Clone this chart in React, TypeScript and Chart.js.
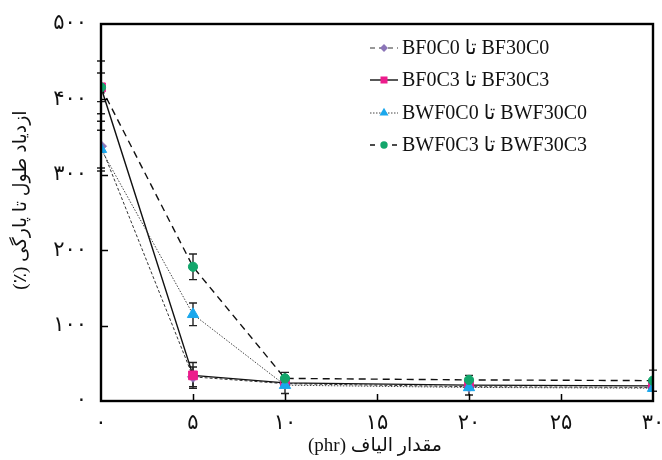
import React, { useEffect, useRef } from 'react';
import { Chart, registerables } from 'chart.js';

Chart.register(...registerables);

// ---- data ----
const xValues = [0, 5, 10, 20, 30];
const seriesLabels = [
  'BF0C0 تا BF30C0',
  'BF0C3 تا BF30C3',
  'BWF0C0 تا BWF30C0',
  'BWF0C3 تا BWF30C3',
];
const bf0c0 = [338, 32, 23, 19, 18];
const bf0c3 = [416, 34, 24, 21, 20];
const bwf0c0 = [334, 115, 21, 18, 17];
const bwf0c3 = [416, 178, 30, 28, 27];
const bf0c0Err = [33, 13, 0, 0, 0];
const bf0c3Err = [35, 17, 14, 13, 0];
const bwf0c0Err = [25, 15, 0, 0, 0];
const bwf0c3Err = [19, 17, 0, 0, 14];
const xTickLabels = ['۰', '۵', '۱۰', '۱۵', '۲۰', '۲۵', '۳۰'];
const yTickLabels = ['۰', '۱۰۰', '۲۰۰', '۳۰۰', '۴۰۰', '۵۰۰'];
const xTitle = 'مقدار الیاف (phr)';
const yTitle = 'ازدیاد طول تا پارگی (٪)';

const seriesValues = [bf0c0, bf0c3, bwf0c0, bwf0c3];
const seriesErrors = [bf0c0Err, bf0c3Err, bwf0c0Err, bwf0c3Err];
const seriesColors = ['#8B75B8', '#EC1C8C', '#1AA7EC', '#12A66B'];
const seriesShapes = ['rectRot', 'rect', 'triangle', 'circle'];
const seriesRadius = [5.5, 6.2, 6.5, 4.6];
const seriesDash = [[3, 2], [], [1.5, 1.5], [7, 5]];
const seriesLineColor = ['#333', '#111', '#444', '#111'];
const seriesLineWidth = [1, 1.4, 1, 1.4];
const seriesOrder = [3, 2, 1, 0];

const FONT_LATIN = "'Liberation Serif', 'DejaVu Sans', serif";
const FONT_FA = "'DejaVu Sans', 'Liberation Serif', sans-serif";

function marker(ctx: CanvasRenderingContext2D, shape: string, r: number, x: number, y: number) {
  ctx.beginPath();
  if (shape === 'circle') {
    ctx.arc(x, y, r, 0, Math.PI * 2);
  } else if (shape === 'rect') {
    const s = r * Math.SQRT1_2;
    ctx.rect(x - s, y - s, 2 * s, 2 * s);
  } else if (shape === 'rectRot') {
    const s = r * 0.9;
    ctx.moveTo(x - s, y);
    ctx.lineTo(x, y - s);
    ctx.lineTo(x + s, y);
    ctx.lineTo(x, y + s);
    ctx.closePath();
  } else {
    const h = r * 1.5;
    const w = r * 0.866;
    ctx.moveTo(x, y - r);
    ctx.lineTo(x + w, y + h - r);
    ctx.lineTo(x - w, y + h - r);
    ctx.closePath();
  }
  ctx.fill();
}

const extrasPlugin = {
  id: 'extras',
  beforeDatasetsDraw(chart: any) {
    const ctx = chart.ctx;
    const xs = chart.scales.x;
    const ys = chart.scales.y;
    ctx.save();
    ctx.strokeStyle = '#222';
    ctx.lineWidth = 1.4;
    seriesValues.forEach((vals, si) => {
      vals.forEach((v, i) => {
        const e = seriesErrors[si][i];
        if (!e) return;
        const px = xs.getPixelForValue(xValues[i]);
        const top = ys.getPixelForValue(v + e);
        const bot = ys.getPixelForValue(v - e);
        ctx.beginPath();
        ctx.moveTo(px, top);
        ctx.lineTo(px, bot);
        ctx.moveTo(px - 4, top);
        ctx.lineTo(px + 4, top);
        ctx.moveTo(px - 4, bot);
        ctx.lineTo(px + 4, bot);
        ctx.stroke();
      });
    });
    ctx.restore();
  },
  afterDraw(chart: any) {
    const ctx = chart.ctx as CanvasRenderingContext2D;
    const a = chart.chartArea;
    const xs = chart.scales.x;
    const ys = chart.scales.y;
    ctx.save();
    // inward ticks
    ctx.strokeStyle = '#000';
    ctx.lineWidth = 1.5;
    ctx.beginPath();
    [100, 200, 300, 400].forEach((v) => {
      const py = Math.round(ys.getPixelForValue(v)) + 0.5;
      ctx.moveTo(a.left, py);
      ctx.lineTo(a.left + 7, py);
    });
    [5, 10, 15, 20, 25].forEach((v) => {
      const px = Math.round(xs.getPixelForValue(v)) + 0.5;
      ctx.moveTo(px, a.bottom);
      ctx.lineTo(px, a.bottom - 7);
    });
    ctx.stroke();
    // frame
    ctx.lineWidth = 2.4;
    ctx.strokeRect(a.left, a.top, a.right - a.left, a.bottom - a.top);

    // legend
    (ctx as any).direction = 'ltr';
    ctx.font = `20px ${FONT_LATIN}`;
    ctx.textBaseline = 'middle';
    ctx.textAlign = 'left';
    const rowY = [48, 80, 113, 145];
    seriesLabels.forEach((lab, i) => {
      const y = rowY[i];
      ctx.save();
      ctx.strokeStyle = seriesLineColor[i];
      ctx.lineWidth = seriesLineWidth[i];
      ctx.setLineDash(i === 3 ? [5, 6] : i === 0 ? [5, 4] : seriesDash[i]);
      ctx.beginPath();
      ctx.moveTo(370, y);
      ctx.lineTo(398, y);
      ctx.stroke();
      ctx.restore();
      ctx.fillStyle = seriesColors[i];
      marker(ctx, seriesShapes[i], seriesRadius[i] * 0.8, 384, y);
      ctx.fillStyle = '#111';
      ctx.fillText(lab, 402, y + 1);
    });

    // axis titles (RTL)
    (ctx as any).direction = 'rtl';
    ctx.fillStyle = '#111';
    ctx.font = `19px ${FONT_LATIN}`;
    ctx.textAlign = 'center';
    ctx.textBaseline = 'middle';
    ctx.fillText(xTitle, (a.left + a.right) / 2 - 2, 446);
    ctx.translate(21, 200);
    ctx.rotate(-Math.PI / 2);
    ctx.fillText(yTitle, 0, 0);
    ctx.restore();
  },
};

export default function App() {
  const ref = useRef<HTMLCanvasElement | null>(null);
  useEffect(() => {
    if (!ref.current) return;
    const datasets = seriesLabels.map((lab, i) => ({
      label: lab,
      data: xValues.map((x, j) => ({ x, y: seriesValues[i][j] })),
      borderColor: seriesLineColor[i],
      borderWidth: seriesLineWidth[i],
      borderDash: seriesDash[i],
      backgroundColor: seriesColors[i],
      pointBackgroundColor: seriesColors[i],
      pointBorderColor: seriesColors[i],
      pointBorderWidth: 1,
      pointStyle: seriesShapes[i],
      pointRadius: seriesRadius[i],
      fill: false,
      tension: 0,
      order: seriesOrder[i],
    }));
    const chart = new Chart(ref.current, {
      type: 'line',
      data: { datasets },
      plugins: [extrasPlugin],
      options: {
        animation: false,
        responsive: true,
        maintainAspectRatio: false,
        layout: { padding: { top: 24, right: 9, left: 0, bottom: 0 } },
        plugins: { legend: { display: false }, tooltip: { enabled: false } },
        scales: {
          x: {
            type: 'linear',
            min: 0,
            max: 30,
            grid: { display: false, drawTicks: false },
            border: { display: false },
            ticks: {
              stepSize: 5,
              autoSkip: false,
              maxRotation: 0,
              padding: 10,
              color: '#111',
              font: { family: FONT_FA, size: 21 },
              callback: (v: any) => xTickLabels[Math.round(Number(v) / 5)] ?? '',
            },
            afterFit: (s: any) => {
              s.height = 59;
              s.paddingLeft = 0;
              s.paddingRight = 0;
            },
          },
          y: {
            type: 'linear',
            min: 0,
            max: 500,
            grid: { display: false, drawTicks: false },
            border: { display: false },
            ticks: {
              stepSize: 100,
              padding: 14,
              color: '#111',
              font: { family: FONT_FA, size: 21 },
              callback: (v: any) => yTickLabels[Math.round(Number(v) / 100)] ?? '',
            },
            afterFit: (s: any) => {
              s.width = 101;
              s.paddingTop = 0;
              s.paddingBottom = 0;
            },
          },
        },
      },
    });
    return () => chart.destroy();
  }, []);
  return (
    <div style={{ position: 'absolute', left: 0, top: 0, width: 662, height: 460, background: '#fff' }}>
      <canvas ref={ref} />
    </div>
  );
}
